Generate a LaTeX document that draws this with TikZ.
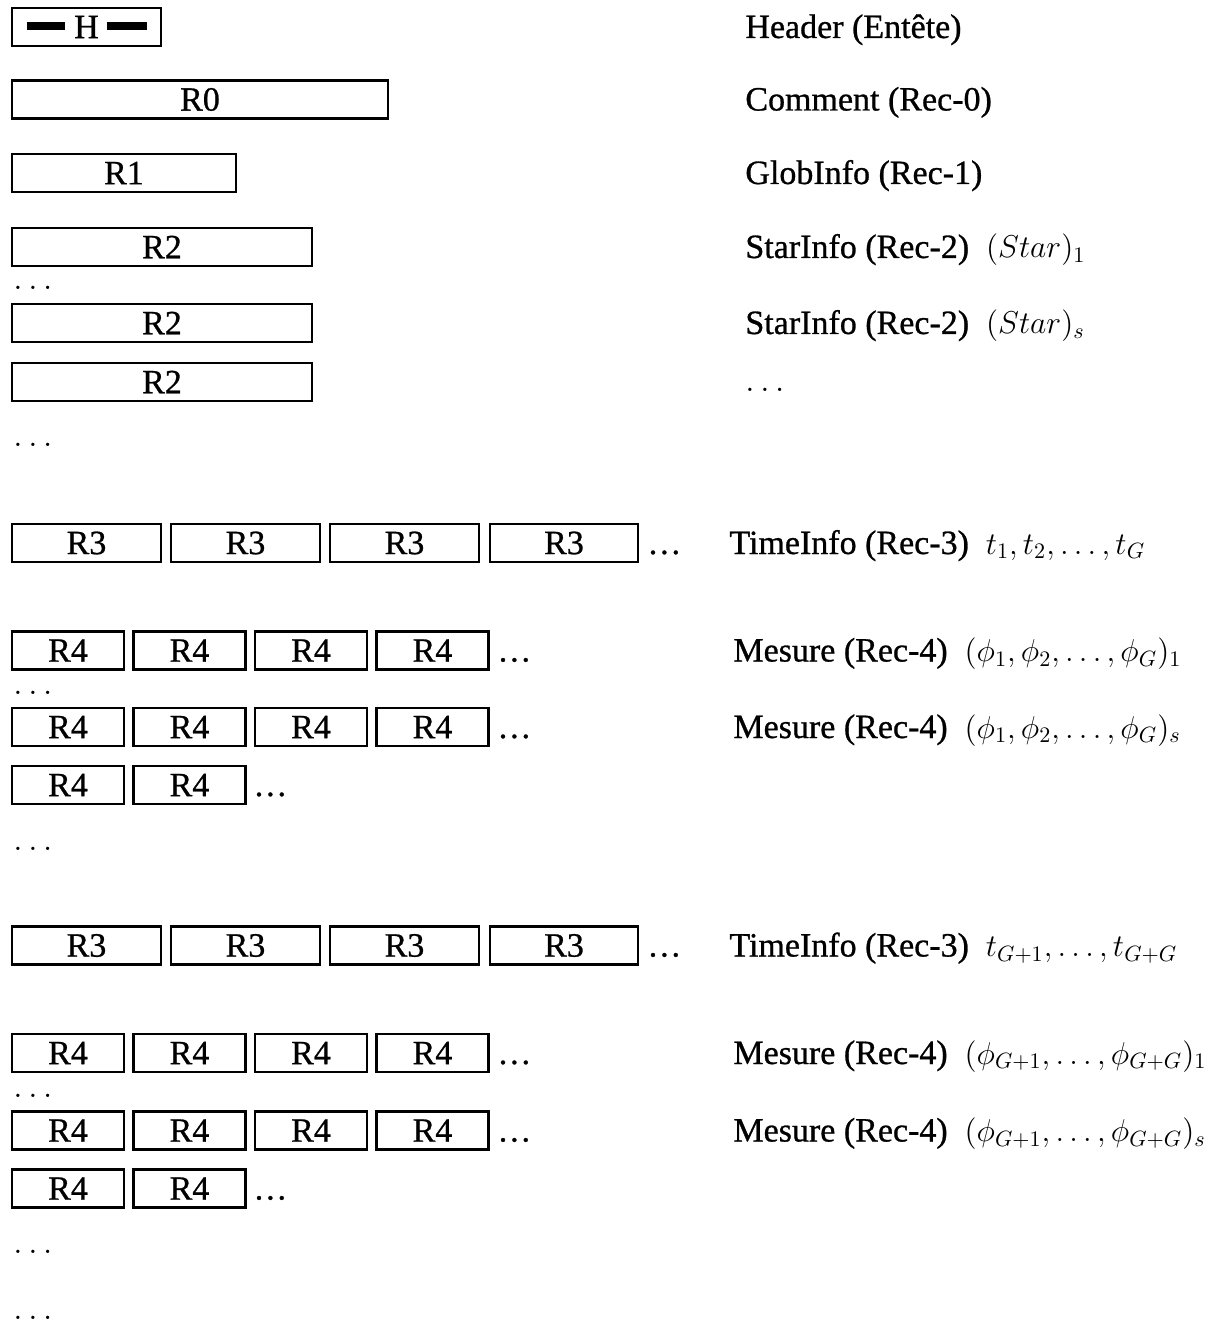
\RequirePackage{fix-cm}
\documentclass[tikz,border=0pt]{standalone}
\usepackage{fontspec}
\setmainfont{Liberation Serif}[FakeBold=0.8]
\newcommand\mth[1]{{\fontsize{15.8}{18}\selectfont$#1$}}
\begin{document}
\fontsize{17}{20}\selectfont
\begin{tikzpicture}[x=0.5pt,y=-0.5pt,
  rec/.style={draw,line width=1.2pt,inner sep=0pt,minimum height=19pt,font=\fontsize{17}{20}\selectfont},
  lab/.style={anchor=base west,inner sep=0pt,font=\fontsize{17}{20}\selectfont},
  dts/.style={anchor=base west,inner sep=0pt,font=\fontsize{17}{20}\selectfont},
  bar/.style={fill=black,draw=none}]
\useasboundingbox (0,0) rectangle (1212,1325);
% header
\node[rec,minimum width=74.5pt] (H) at (86.5,27) {H};
\fill[bar] (27,22) rectangle (65,30);
\fill[bar] (107,22) rectangle (147,30);
\node[rec,minimum width=188pt] (R0) at (200,99.5) {R0};
\node[rec,minimum width=112pt] (R1) at (124,173) {R1};
\node[rec,minimum width=150pt] (R2a) at (162,247) {R2};
\node[dts] (d1) at (13,290) {$\ldots$};
\node[rec,minimum width=150pt] (R2b) at (162,323) {R2};
\node[rec,minimum width=150pt] (R2c) at (162,382) {R2};
\node[dts] (d2) at (13,447) {$\ldots$};
% right labels top
\node[lab] (tH) at (745,38) {Header (Entête)};
\node[lab] (tR0) at (745,110.5) {Comment (Rec-0)};
\node[lab] (tR1) at (745,184) {GlobInfo (Rec-1)};
\node[lab] (tR2a) at (745,258) {StarInfo (Rec-2)~~\mth{(Star)_1}};
\node[lab] (tR2b) at (745,334) {StarInfo (Rec-2)~~\mth{(Star)_s}};
\node[dts] (td) at (745,392) {$\ldots$};
% section 1
\foreach \n/\cx/\w in {a/86.5/74.5, b/245.5/74.5, c/404.5/74.5, e/564/74}{
  \node[rec,minimum width=\w pt] (R3\n) at (\cx,543) {R3};
}
\node[dts] (d3) at (647,554) {\ldots};
\node[lab] (tR3) at (729,554) {TimeInfo (Rec-3)~~\mth{t_1, t_2, \ldots, t_G}};
\foreach \n/\cx in {a/68, b/189.5, c/311, e/432.5}{
  \node[rec,minimum width=56pt] (R4x\n) at (\cx,650.5) {R4};
  \node[rec,minimum width=56pt] (R4y\n) at (\cx,727) {R4};
}
\node[dts] (d4) at (497,661.5) {\ldots};
\node[dts] (d5) at (13,694) {$\ldots$};
\node[dts] (d6) at (497,738) {\ldots};
\node[rec,minimum width=56pt] (R4za) at (68,785) {R4};
\node[rec,minimum width=56pt] (R4zb) at (189.5,785) {R4};
\node[dts] (d7) at (253,796) {\ldots};
\node[dts] (d8) at (13,850) {$\ldots$};
\node[lab] (tR4x) at (733,661.5) {Mesure (Rec-4)~~\mth{(\phi_1, \phi_2, \ldots, \phi_G)_1}};
\node[lab] (tR4y) at (733,738) {Mesure (Rec-4)~~\mth{(\phi_1, \phi_2, \ldots, \phi_G)_s}};
% section 2
\foreach \n/\cx/\w in {a/86.5/74.5, b/245.5/74.5, c/404.5/74.5, e/564/74}{
  \node[rec,minimum width=\w pt] (S3\n) at (\cx,945.5) {R3};
}
\node[dts] (e3) at (647,956.5) {\ldots};
\node[lab] (sR3) at (729,956.5) {TimeInfo (Rec-3)~~\mth{t_{G+1}, \ldots, t_{G+G}}};
\foreach \n/\cx in {a/68, b/189.5, c/311, e/432.5}{
  \node[rec,minimum width=56pt] (S4x\n) at (\cx,1053) {R4};
  \node[rec,minimum width=56pt] (S4y\n) at (\cx,1130.5) {R4};
}
\node[dts] (e4) at (497,1064) {\ldots};
\node[dts] (e5) at (13,1097) {$\ldots$};
\node[dts] (e6) at (497,1141.5) {\ldots};
\node[rec,minimum width=56pt] (S4za) at (68,1188.5) {R4};
\node[rec,minimum width=56pt] (S4zb) at (189.5,1188.5) {R4};
\node[dts] (e7) at (253,1199.5) {\ldots};
\node[dts] (e8) at (13,1253) {$\ldots$};
\node[dts] (e9) at (13,1319) {$\ldots$};
\node[lab] (sR4x) at (733,1064) {Mesure (Rec-4)~~\mth{(\phi_{G+1}, \ldots, \phi_{G+G})_1}};
\node[lab] (sR4y) at (733,1141.5) {Mesure (Rec-4)~~\mth{(\phi_{G+1}, \ldots, \phi_{G+G})_s}};
\end{tikzpicture}
\end{document}
